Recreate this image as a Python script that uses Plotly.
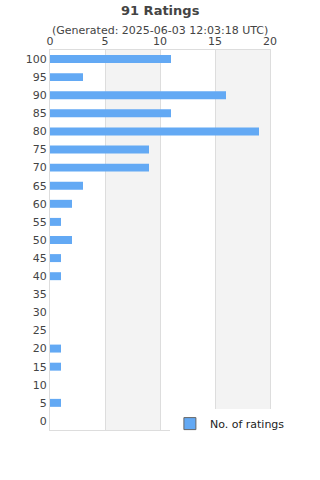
import plotly.graph_objects as go

ratings = [100, 95, 90, 85, 80, 75, 70, 65, 60, 55, 50, 45, 40, 35, 30, 25, 20, 15, 10, 5, 0]
counts = [11, 3, 16, 11, 19, 9, 9, 3, 2, 1, 2, 1, 1, 0, 0, 0, 1, 1, 0, 1, 0]
x_ticks = [0, 5, 10, 15, 20]
title = "91 Ratings"
subtitle = "(Generated: 2025-06-03 12:03:18 UTC)"
series_name = "No. of ratings"

bar_color = "#63a9f4"
font = "DejaVu Sans"

fig = go.Figure()
fig.add_trace(go.Bar(
    x=counts, y=ratings, orientation="h", width=2.2,
    marker=dict(color=bar_color, line=dict(width=0)),
    showlegend=False, hoverinfo="x+y",
))
fig.add_trace(go.Bar(
    x=[None], y=[None], orientation="h", name=series_name,
    marker=dict(color=bar_color, line=dict(color="#666", width=1)),
    showlegend=True,
))

shapes = []
for a, b in [(5, 10), (15, 20)]:
    shapes.append(dict(type="rect", xref="x", yref="paper", x0=a, x1=b, y0=0, y1=1,
                       fillcolor="#f3f3f3", line=dict(width=0), layer="below"))

ph = 480 - 100
fig.update_layout(
    width=320, height=480,
    margin=dict(l=50, r=50, t=50, b=50),
    paper_bgcolor="white", plot_bgcolor="white",
    font=dict(family=font, color="#444", size=11),
    shapes=shapes,
    xaxis=dict(side="top", range=[0, 20], tickvals=x_ticks, ticks="",
               showgrid=True, gridcolor="#dddddd", gridwidth=1, zeroline=False,
               showline=True, linecolor="#dddddd", mirror=True,
               tickfont=dict(size=11, color="#444")),
    yaxis=dict(range=[-2.5, 102.5], tickvals=ratings, ticks="",
               showgrid=False, zeroline=False, showline=True, linecolor="#dddddd",
               mirror=True, tickfont=dict(size=11, color="#444")),
    legend=dict(x=0.545, y=0.055, xanchor="left", yanchor="top",
                bgcolor="white", borderwidth=0, font=dict(size=11, color="#222")),
)
fig.add_annotation(text="<b>" + title + "</b>", x=0.5, xref="paper", xanchor="center",
                   y=1 + (50 - 10) / ph, yref="paper", yanchor="middle",
                   showarrow=False, font=dict(size=13, color="#444"))
fig.add_annotation(text=subtitle, x=0.5, xref="paper", xanchor="center",
                   y=1 + (50 - 30) / ph, yref="paper", yanchor="middle",
                   showarrow=False, font=dict(size=11, color="#444"))

fig.write_html("out.html")
